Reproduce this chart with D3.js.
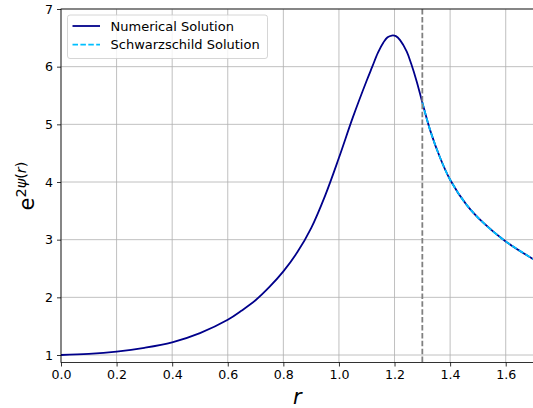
<!DOCTYPE html>
<html>
<head>
<meta charset="utf-8">
<script src="https://cdn.jsdelivr.net/npm/d3@7"></script>
<style>
  html, body { margin: 0; padding: 0; background: #fff; }
  svg { display: block; }
  text { font-family: "DejaVu Sans", sans-serif; }
</style>
</head>
<body>
<svg id="chart" width="533" height="408"></svg>
<script>
// ---- data ----
const rValues = [0, 0.1, 0.2, 0.3, 0.4, 0.5, 0.6, 0.65, 0.7, 0.75, 0.8, 0.85, 0.9, 0.95, 1.0, 1.05, 1.1, 1.12, 1.14, 1.16, 1.175, 1.19, 1.205, 1.22, 1.244, 1.26, 1.28, 1.3, 1.328, 1.364, 1.4, 1.46, 1.52, 1.6, 1.7];
const numericalValues = [1.00, 1.02, 1.06, 1.125, 1.22, 1.38, 1.61, 1.77, 1.95, 2.18, 2.45, 2.78, 3.20, 3.76, 4.42, 5.12, 5.76, 6.00, 6.24, 6.42, 6.51, 6.54, 6.53, 6.46, 6.26, 6.05, 5.74, 5.38, 4.90, 4.42, 4.04, 3.60, 3.29, 2.97, 2.66];
const schwarzR = [1.3, 1.328, 1.364, 1.4, 1.46, 1.52, 1.6, 1.7];
const schwarzValues = [5.38, 4.90, 4.42, 4.04, 3.60, 3.29, 2.97, 2.66];
const boundaryR = 1.3;
const xTicks = [0, 0.2, 0.4, 0.6, 0.8, 1.0, 1.2, 1.4, 1.6];
const yTicks = [1, 2, 3, 4, 5, 6, 7];
const seriesNames = ["Numerical Solution", "Schwarzschild Solution"];

const svg = d3.select("#chart");
const margin = { left: 61, right: 533.5, top: 9, bottom: 362.5 };
const x = d3.scaleLinear().domain([0, 1.7]).range([margin.left, margin.right]);
const y = d3.scaleLinear().domain([0.87, 7]).range([margin.bottom, margin.top]);

svg.append("clipPath").attr("id", "clip").append("rect")
  .attr("x", margin.left).attr("y", margin.top)
  .attr("width", margin.right - margin.left).attr("height", margin.bottom - margin.top);

// grid
const grid = svg.append("g");
grid.selectAll("line.vx").data(xTicks).enter().append("line")
  .attr("x1", d => x(d)).attr("x2", d => x(d))
  .attr("y1", margin.top).attr("y2", margin.bottom)
  .attr("stroke", "#b0b0b0").attr("stroke-width", 0.8);
grid.selectAll("line.hy").data(yTicks).enter().append("line")
  .attr("y1", d => y(d)).attr("y2", d => y(d))
  .attr("x1", margin.left).attr("x2", margin.right)
  .attr("stroke", "#b0b0b0").attr("stroke-width", 0.8);

const plot = svg.append("g").attr("clip-path", "url(#clip)");
const line = d3.line().x(d => x(d[0])).y(d => y(d[1])).curve(d3.curveCatmullRom.alpha(0.5));

plot.append("path").datum(rValues.map((r, i) => [r, numericalValues[i]]))
  .attr("d", line).attr("fill", "none").attr("stroke", "#00008b").attr("stroke-width", 1.8);
plot.append("path").datum(schwarzR.map((r, i) => [r, schwarzValues[i]]))
  .attr("d", line).attr("fill", "none").attr("stroke", "#00bfff").attr("stroke-width", 1.8)
  .attr("stroke-dasharray", "5.5,2.4");
plot.append("line")
  .attr("x1", x(boundaryR)).attr("x2", x(boundaryR))
  .attr("y1", margin.top).attr("y2", margin.bottom)
  .attr("stroke", "#808080").attr("stroke-width", 1.8).attr("stroke-dasharray", "5.5,2.4");

// axes
const xAxis = d3.axisBottom(x).tickValues(xTicks).tickFormat(d3.format(".1f")).tickSizeOuter(0).tickSize(4).tickPadding(4);
const yAxis = d3.axisLeft(y).tickValues(yTicks).tickFormat(d3.format("d")).tickSizeOuter(0).tickSize(4).tickPadding(4);
const gx = svg.append("g").attr("transform", `translate(0,${margin.bottom})`).call(xAxis);
const gy = svg.append("g").attr("transform", `translate(${margin.left},0)`).call(yAxis);
[gx, gy].forEach(g => {
  g.select(".domain").remove();
  g.selectAll("line").attr("stroke", "#000").attr("stroke-width", 0.8);
  g.selectAll("text").attr("fill", "#000").style("font-size", "12.6px").style("font-family", "DejaVu Sans");
});

// spines
svg.append("rect").attr("x", margin.left).attr("y", margin.top)
  .attr("width", margin.right - margin.left).attr("height", margin.bottom - margin.top)
  .attr("fill", "none").attr("stroke", "#000").attr("stroke-width", 0.8);

// axis labels
svg.append("text").attr("x", (margin.left + margin.right) / 2).attr("y", 404)
  .attr("text-anchor", "middle").style("font-size", "21px").style("font-style", "italic")
  .style("font-family", "DejaVu Sans").text("r");

const yl = svg.append("text").attr("transform", "translate(34,186) rotate(-90)")
  .attr("text-anchor", "middle").style("font-family", "DejaVu Sans");
yl.append("tspan").style("font-size", "21px").text("e");
yl.append("tspan").style("font-size", "14.5px").attr("dy", "-8").text("2");
yl.append("tspan").style("font-size", "14.5px").style("font-style", "italic").text("ψ");
yl.append("tspan").style("font-size", "14.5px").text("(");
yl.append("tspan").style("font-size", "14.5px").style("font-style", "italic").text("r");
yl.append("tspan").style("font-size", "14.5px").text(")");

// legend
const lg = svg.append("g");
lg.append("rect").attr("x", 67.5).attr("y", 15).attr("width", 200).attr("height", 43.5)
  .attr("rx", 2.5).attr("fill", "#fff").attr("fill-opacity", 0.8)
  .attr("stroke", "#cccccc").attr("stroke-width", 0.8);
const legendStyles = [
  { color: "#00008b", dash: null },
  { color: "#00bfff", dash: "5.5,2.4" }
];
seriesNames.forEach((name, i) => {
  const yy = 26 + i * 18.7;
  lg.append("line").attr("x1", 72.5).attr("x2", 100).attr("y1", yy).attr("y2", yy)
    .attr("stroke", legendStyles[i].color).attr("stroke-width", 1.8)
    .attr("stroke-dasharray", legendStyles[i].dash);
  lg.append("text").attr("x", 110.5).attr("y", yy + 4.5)
    .style("font-size", "13px").text(name);
});
</script>
</body>
</html>
